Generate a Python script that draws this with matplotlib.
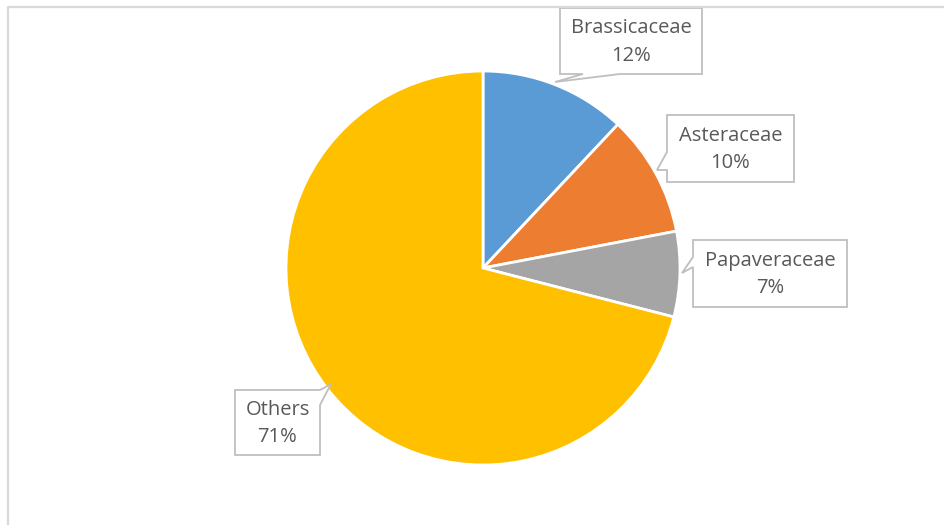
import matplotlib.pyplot as plt
from matplotlib.patches import Polygon

# Plant family shares
families = ["Brassicaceae", "Asteraceae", "Papaveraceae", "Others"]
shares = [12, 10, 7, 71]
colors = ["#5B9BD5", "#ED7D31", "#A5A5A5", "#FFC000"]

W, H = 944, 525
TEXT = "#595959"
EDGE = "#BFBFBF"

fig = plt.figure(figsize=(W / 100, H / 100), dpi=100)
ax = fig.add_axes([0, 0, 1, 1])
ax.set_xlim(0, W)
ax.set_ylim(H, 0)
ax.set_aspect("equal")
ax.axis("off")

# pie (drawn on a y-down canvas, so flip direction flag accordingly)
cx, cy, r = 483, 268, 197
ax.pie(shares, colors=colors, center=(cx, cy), radius=r,
       startangle=-90, counterclock=True,
       wedgeprops=dict(edgecolor="white", linewidth=2))
ax.set_xlim(0, W)
ax.set_ylim(H, 0)

# chart frame (top and left edges visible)
ax.plot([8, 8, W + 5], [H + 5, 7, 7], color="#D9D9D9", lw=1.6, clip_on=False)


def callout(box, notch_side, n0, n1, tip, text):
    x0, y0, x1, y1 = box
    if notch_side == "bottom":
        pts = [(x0, y0), (x1, y0), (x1, y1), (n1, y1), tip, (n0, y1), (x0, y1)]
    elif notch_side == "left":
        pts = [(x0, y0), (x1, y0), (x1, y1), (x0, y1), (x0, n1), tip, (x0, n0)]
    else:  # right
        pts = [(x0, y0), (x1, y0), (x1, n0), tip, (x1, n1), (x1, y1), (x0, y1)]
    ax.add_patch(Polygon(pts, closed=True, facecolor="white",
                         edgecolor=EDGE, lw=1.3, joinstyle="miter"))
    ax.text((x0 + x1) / 2, (y0 + y1) / 2 + 1, text, ha="center", va="center",
            fontsize=14.5, color=TEXT, family="Open Sans", linespacing=1.5)


labels = [f"{f}\n{s}%" for f, s in zip(families, shares)]
callout((560, 8, 702, 74), "bottom", 583, 620, (555, 82), labels[0])
callout((667, 115, 794, 182), "left", 152, 170, (657, 170), labels[1])
callout((693, 240, 847, 307), "left", 257, 267, (682, 273), labels[2])
callout((235, 390, 320, 455), "right", 390, 405, (331, 384), labels[3])

fig.savefig("out.png", dpi=100)
